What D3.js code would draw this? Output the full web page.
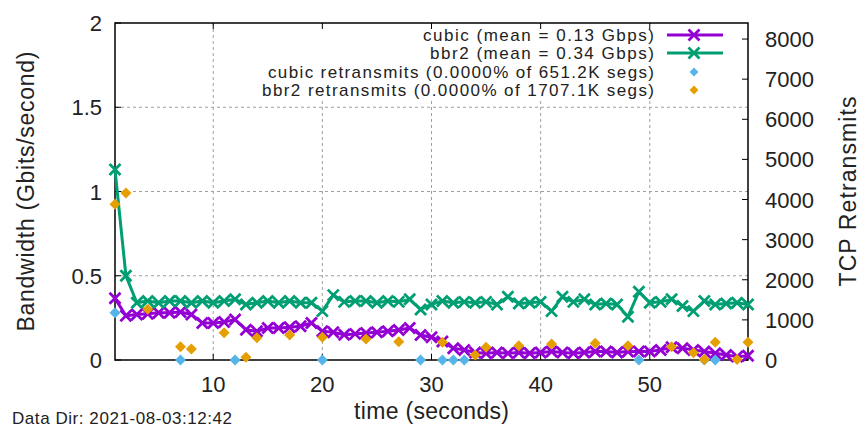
<!DOCTYPE html>
<html>
<head>
<meta charset="utf-8">
<script src="https://cdn.jsdelivr.net/npm/d3@7"></script>
<style>
  body { margin: 0; background: #fff; }
  svg { display: block; font-family: "Liberation Sans", Arial, sans-serif; }
</style>
</head>
<body>
<script>
// seconds of the test
var seconds = [1,2,3,4,5,6,7,8,9,10,11,12,13,14,15,16,17,18,19,20,
  21,22,23,24,25,26,27,28,29,30,31,32,33,34,35,36,37,38,39,40,
  41,42,43,44,45,46,47,48,49,50,51,52,53,54,55,56,57,58,59];

// bandwidth, Gbits/second
var cubic_bw = [0.366,0.263,0.27,0.275,0.28,0.28,0.285,0.27,0.22,0.22,
  0.225,0.24,0.18,0.17,0.19,0.19,0.195,0.20,0.22,0.17,
  0.165,0.15,0.155,0.16,0.165,0.17,0.178,0.19,0.148,0.135,
  0.11,0.07,0.06,0.045,0.04,0.045,0.04,0.045,0.04,0.045,
  0.05,0.045,0.04,0.045,0.05,0.05,0.045,0.05,0.05,0.05,
  0.06,0.075,0.07,0.06,0.05,0.04,0.03,0.02,0.025];
var bbr2_bw = [1.13,0.50,0.34,0.35,0.34,0.35,0.35,0.34,0.35,0.34,
  0.35,0.36,0.33,0.34,0.35,0.34,0.35,0.34,0.34,0.29,
  0.385,0.345,0.35,0.35,0.34,0.35,0.345,0.36,0.30,0.33,
  0.35,0.34,0.345,0.34,0.345,0.33,0.375,0.335,0.34,0.345,
  0.29,0.375,0.345,0.36,0.33,0.335,0.33,0.257,0.405,0.34,
  0.345,0.36,0.32,0.29,0.35,0.33,0.335,0.34,0.33];

// tcp retransmits (only seconds that had some)
var cubic_retr_t = [1,7,12,20,29,31,32,33,49,55,56];
var cubic_retr = [1180,3,3,3,3,3,3,3,3,3,3];
var bbr2_retr_t = [1,2,4,7,8,11,13,14,17,20,24,27,31,34,35,38,41,45,48,52,54,55,56,58,59];
var bbr2_retr = [3885,4165,1262,332,274,680,67,556,622,565,523,456,440,124,316,357,398,420,357,332,183,15,440,15,440];

var x_ticks = [10,20,30,40,50];
var y_ticks = [0,0.5,1,1.5,2];
var y_tick_labels = ["0","0.5","1","1.5","2"];
var y2_ticks = [0,1000,2000,3000,4000,5000,6000,7000,8000];

var legend_labels = ["cubic (mean = 0.13 Gbps)", "bbr2 (mean = 0.34 Gbps)",
  "cubic retransmits (0.0000% of 651.2K segs)", "bbr2 retransmits (0.0000% of 1707.1K segs)"];

var par = {
  w: 860, h: 427,
  left: 115, right: 748, top: 23, bottom: 360,
  purple: "#9400d3", green: "#009e73", blue: "#56b4e9", orange: "#e69f00",
  grid: "#a0a0a0"
};

var svg = d3.select("body").append("svg")
  .attr("width", par.w).attr("height", par.h);

var x = d3.scaleLinear().domain([1, 59]).range([par.left, par.right]);
var y = d3.scaleLinear().domain([0, 2]).range([par.bottom, par.top]);
var y2 = d3.scaleLinear().domain([0, 8400]).range([par.bottom, par.top]);

// grid
var grid = svg.append("g").attr("stroke", par.grid).attr("stroke-dasharray", "3,3").attr("stroke-width", 1);
x_ticks.forEach(function(t){
  grid.append("line").attr("x1", x(t)).attr("x2", x(t)).attr("y1", par.top).attr("y2", par.bottom);
});
y_ticks.slice(1, 4).forEach(function(v){
  grid.append("line").attr("x1", par.left).attr("x2", par.right).attr("y1", y(v)).attr("y2", y(v));
});

// legend background hides the grid
svg.append("rect").attr("x", 262).attr("y", par.top + 1).attr("width", par.right - 262 - 1).attr("height", 77)
  .attr("fill", "#fff");

// ticks (inward)
var ticks = svg.append("g").attr("stroke", "#000").attr("stroke-width", 1);
x_ticks.forEach(function(t){
  ticks.append("line").attr("x1", x(t)).attr("x2", x(t)).attr("y1", par.bottom).attr("y2", par.bottom - 6);
  ticks.append("line").attr("x1", x(t)).attr("x2", x(t)).attr("y1", par.top).attr("y2", par.top + 6);
});
y_ticks.forEach(function(v){
  ticks.append("line").attr("x1", par.left).attr("x2", par.left + 6).attr("y1", y(v)).attr("y2", y(v));
});
y2_ticks.forEach(function(v){
  ticks.append("line").attr("x1", par.right).attr("x2", par.right - 6).attr("y1", y2(v)).attr("y2", y2(v));
});

// frame
svg.append("rect").attr("x", par.left).attr("y", par.top)
  .attr("width", par.right - par.left).attr("height", par.bottom - par.top)
  .attr("fill", "none").attr("stroke", "#000").attr("stroke-width", 1.5);

// tick labels
var lbl = svg.append("g").attr("fill", "#222").style("font-size", "22px");
x_ticks.forEach(function(t){
  lbl.append("text").attr("x", x(t)).attr("y", 392).attr("text-anchor", "middle").text(t);
});
y_ticks.forEach(function(v, i){
  lbl.append("text").attr("x", 102).attr("y", y(v) + 8).attr("text-anchor", "end").text(y_tick_labels[i]);
});
y2_ticks.forEach(function(v){
  lbl.append("text").attr("x", 765).attr("y", y2(v) + 8).attr("text-anchor", "start").text(v);
});

// axis labels
svg.append("text").attr("x", (par.left + par.right) / 2).attr("y", 419)
  .attr("text-anchor", "middle").attr("fill", "#222").style("font-size", "23px")
  .attr("textLength", 155).text("time (seconds)");
svg.append("text").attr("transform", "translate(34," + (par.top + par.bottom) / 2 + ") rotate(-90)")
  .attr("text-anchor", "middle").attr("fill", "#222").style("font-size", "23px")
  .attr("textLength", 280).text("Bandwidth (Gbits/second)");
svg.append("text").attr("transform", "translate(856," + (par.top + par.bottom) / 2 + ") rotate(-90)")
  .attr("text-anchor", "middle").attr("fill", "#222").style("font-size", "23px")
  .attr("textLength", 190).text("TCP Retransmits");
svg.append("text").attr("x", 12).attr("y", 424).attr("fill", "#222").style("font-size", "17px")
  .attr("textLength", 220).text("Data Dir: 2021-08-03:12:42");

// marks
var cross = "M-5.5,-5.5L5.5,5.5M-5.5,5.5L5.5,-5.5";
var diamond = "M0,-5.5L5.5,0L0,5.5L-5.5,0Z";

var place_series = function(vals, color){
  var pts = seconds.map(function(t, i){ return [x(t), y(vals[i])]; });
  svg.append("path").attr("d", d3.line()(pts)).attr("fill", "none")
    .attr("stroke", color).attr("stroke-width", 3).attr("stroke-linejoin", "round");
  svg.append("g").selectAll("path").data(pts).join("path")
    .attr("transform", function(d){ return "translate(" + d[0] + "," + d[1] + ")"; })
    .attr("d", cross).attr("fill", "none").attr("stroke", color).attr("stroke-width", 2.8);
};
var place_retr = function(ts, vals, color){
  svg.append("g").selectAll("path").data(ts).join("path")
    .attr("transform", function(t, i){ return "translate(" + x(t) + "," + y2(vals[i]) + ")"; })
    .attr("d", diamond).attr("fill", color);
};

place_series(cubic_bw, par.purple);
place_series(bbr2_bw, par.green);
place_retr(cubic_retr_t, cubic_retr, par.blue);
place_retr(bbr2_retr_t, bbr2_retr, par.orange);

// legend
var leg_y = [35, 53, 72, 90];
var leg_w = [231, 224, 386, 392];
var colors = [par.purple, par.green, par.blue, par.orange];
leg_y.forEach(function(ly, i){
  svg.append("text").attr("x", 654).attr("y", ly + 6).attr("text-anchor", "end")
    .attr("fill", "#222").style("font-size", "17px")
    .attr("textLength", leg_w[i]).text(legend_labels[i]);
  if (i < 2){
    svg.append("line").attr("x1", 667).attr("x2", 723).attr("y1", ly).attr("y2", ly)
      .attr("stroke", colors[i]).attr("stroke-width", 3);
    svg.append("path").attr("transform", "translate(694," + ly + ")").attr("d", cross)
      .attr("fill", "none").attr("stroke", colors[i]).attr("stroke-width", 2.8);
  } else {
    svg.append("path").attr("transform", "translate(694," + ly + ") scale(0.8)").attr("d", diamond)
      .attr("fill", colors[i]);
  }
});
</script>
</body>
</html>
